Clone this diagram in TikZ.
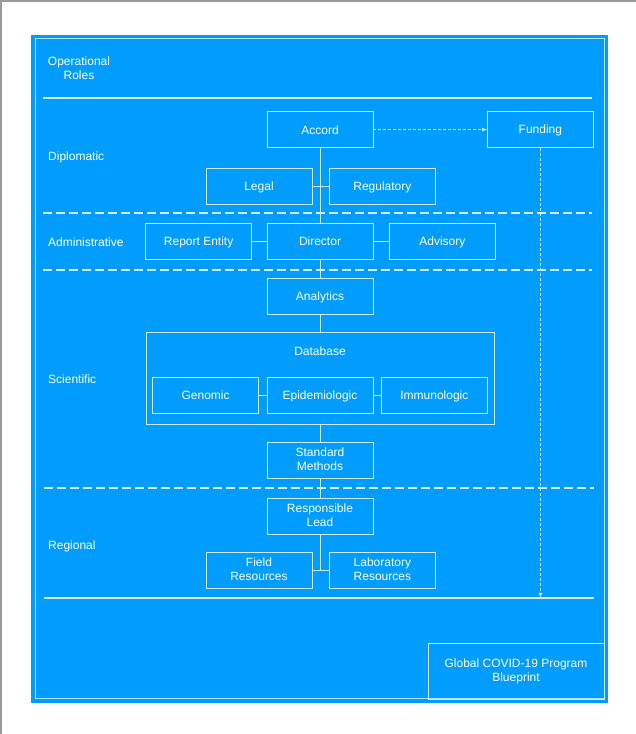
\documentclass[tikz,border=0pt]{standalone}
\usepackage{fontspec}
\setmainfont{Liberation Sans}
\usetikzlibrary{arrows,positioning}
\definecolor{bpblue}{RGB}{0,157,255}
\newcommand\ustrut{\rule[-2pt]{0pt}{13pt}}

\begin{document}
\begin{tikzpicture}[x=1pt,y=1pt,node distance=8pt,font=\fontsize{12}{14}\selectfont]
        \tikzstyle{unit}=[draw=white!80!bpblue, rectangle, minimum width=106pt, minimum height=36pt, text=white, align=center, inner sep=1pt, execute at begin node=\ustrut, execute at end node=\ustrut]
        \tikzstyle{lane}=[text=white, anchor=west, inner sep=0pt]
        \tikzstyle{link}=[draw=white!80!bpblue, line width=0.8pt]
        \tikzstyle{sep}=[draw=white!85!bpblue, line width=1.2pt]

        \useasboundingbox (0,0) rectangle (636,734);
        \draw[gray!80, line width=1.2pt] (1,0) -- (1,733) -- (636,733);
        \fill[bpblue] (31,31) rectangle (608,699);
        \draw[white!70!bpblue, line width=1pt] (35,35) rectangle (604,695);

        % lanes
        \node[lane, align=center, anchor=center] (roles) at (79,666) {Operational\\Roles};
        \node[lane] (diplo) at (48,577) {Diplomatic};
        \node[lane] (admin) at (48,492) {Administrative};
        \node[lane] (scien) at (48,355) {Scientific};
        \node[lane] (regio) at (48,188) {Regional};

        \coordinate (top0) at (43,636);   \coordinate (top1) at (592,636);
        \coordinate (dip0) at (43,521);   \coordinate (dip1) at (592,521);
        \coordinate (adm0) at (43,464);   \coordinate (adm1) at (592,464);
        \coordinate (sci0) at (44,246);   \coordinate (sci1) at (594,246);
        \coordinate (reg0) at (44,136);   \coordinate (reg1) at (594,136);

        \draw[sep] (top0) -- (top1);
        \draw[sep, dash pattern=on 9pt off 4pt] (dip0) -- (dip1);
        \draw[sep, dash pattern=on 9pt off 4pt] (adm0) -- (adm1);
        \draw[sep, dash pattern=on 9pt off 4pt] (sci0) -- (sci1);
        \draw[sep] (reg0) -- (reg1);

        % units
        \node[unit] (dir) at (320,493) {Director};
        \node[unit] (rep) [left=15pt of dir] {Report Entity};
        \node[unit] (adv) [right=16pt of dir] {Advisory};

        \node[unit] (acc) [above=75pt of dir] {Accord};
        \node[unit] (fund) [right=114pt of acc] {Funding};
        \node[unit] (leg) at (259,548) {Legal};
        \node[unit] (reg) [right=17pt of leg] {Regulatory};

        \node[unit] (ana) [below=19pt of dir] {Analytics};
        \node[draw=white!80!bpblue, minimum width=348pt, minimum height=92pt] (db) at (320,356) {};
        \node[text=white] (dbt) at (320,383) {Database};
        \node[unit] (epi) at (320,339) {Epidemiologic};
        \node[unit] (gen) [left=8pt of epi] {Genomic};
        \node[unit] (imm) [right=8pt of epi] {Immunologic};
        \node[unit] (std) [below=18pt of db] {Standard\\Methods};

        \node[unit] (lead) [below=19pt of std] {Responsible\\Lead};
        \node[unit] (field) at (259,164) {Field\\Resources};
        \node[unit] (lab) [right=17pt of field] {Laboratory\\Resources};

        \node[unit, minimum width=176pt, minimum height=56pt] (blue) at (516,63) {Global COVID-19 Program\\Blueprint};

        \draw[link] (acc) -- (dir);
        \draw[link] (leg) -- (reg);
        \draw[link] (rep) -- (dir);
        \draw[link] (dir) -- (adv);
        \draw[link] (dir) -- (ana);
        \draw[link] (ana) -- (db);
        \draw[link] (gen) -- (epi);
        \draw[link] (epi) -- (imm);
        \draw[link] (db) -- (std);
        \draw[link] (std) -- (lead);
        \draw[link] (field) -- (lab);
        \draw[link] (lead) -- (lead |- field);

        \draw[link, dash pattern=on 3pt off 2pt, -latex] (acc) -- (fund);
        \draw[link, dash pattern=on 3pt off 2pt, -latex] (fund) -- (fund |- reg0);

    \end{tikzpicture}
\end{document}
